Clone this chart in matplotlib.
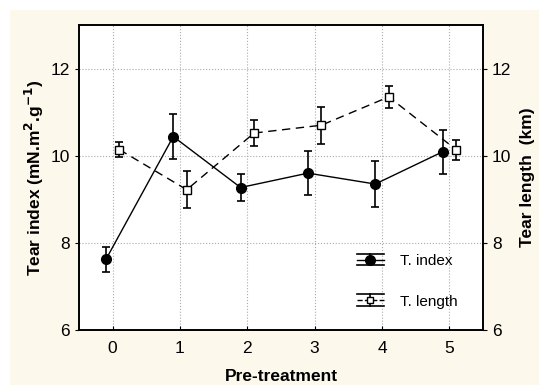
import matplotlib
matplotlib.use("Agg")
from matplotlib import pyplot as plt
from matplotlib.legend_handler import HandlerBase
from matplotlib.lines import Line2D
from matplotlib.patches import Rectangle

plt.rcParams['font.family'] = ['Liberation Sans', 'DejaVu Sans']

# data
pretreatment = [0, 1, 2, 3, 4, 5]
tear_index = [7.62, 10.44, 9.27, 9.60, 9.35, 10.09]
tear_index_err = [0.28, 0.52, 0.32, 0.50, 0.53, 0.51]
tear_length = [10.14, 9.22, 10.52, 10.70, 11.35, 10.14]
tear_length_err = [0.17, 0.42, 0.30, 0.42, 0.26, 0.23]
offset = 0.1


# legend key like the original: long caps above and below the marker
class ErrKey(HandlerBase):
    def create_artists(self, legend, orig, xd, yd, w, h, fontsize, trans):
        ls = orig.get_linestyle()
        mid = h / 2 - yd
        x0, x1 = -xd, -xd + w
        xm = (x0 + x1) / 2
        arts = [
            Line2D([x0, x1], [mid, mid], color='black', lw=1, ls=ls),
            Line2D([x0, x1], [mid + h * 0.55, mid + h * 0.55], color='black', lw=1.2),
            Line2D([x0, x1], [mid - h * 0.55, mid - h * 0.55], color='black', lw=1.2),
            Line2D([xm, xm], [mid - h * 0.55, mid + h * 0.55], color='black', lw=1.2),
            Line2D([xm], [mid], marker=orig.get_marker(), ms=orig.get_markersize(),
                   mfc=orig.get_markerfacecolor(), mec='black', ls='none'),
        ]
        for a in arts:
            a.set_transform(trans)
        return arts


fig = plt.figure(figsize=(5.39, 3.85), dpi=100, facecolor='white')
fig.patches.append(Rectangle((10 / 539, 0), 1, 1 - 10 / 385, transform=fig.transFigure,
                             facecolor='#fdf8ec', edgecolor='none', zorder=-1))
ax = fig.add_axes([79 / 539, 55 / 385, 404 / 539, 305 / 385])
ax2 = ax.twinx()

x1 = [p - offset for p in pretreatment]
x2 = [p + offset for p in pretreatment]
ax.errorbar(x1, tear_index, yerr=tear_index_err, fmt='-o', color='black', ms=7,
            lw=1, elinewidth=1.2, capsize=3, capthick=1.2, zorder=3)
ax2.errorbar(x2, tear_length, yerr=tear_length_err, fmt='--s', color='black', mfc='white',
             ms=6, lw=1, dashes=(6, 4), elinewidth=1.2, capsize=3, capthick=1.2, zorder=3)

ax.set_xlim(-0.5, 5.5)
ax.set_ylim(6, 13)
ax2.set_ylim(6, 13)
ax.set_xticks(pretreatment)
ax.set_yticks([6, 8, 10, 12])
ax2.set_yticks([6, 8, 10, 12])
ax.grid(True, color='#aaaaaa', ls=':', lw=0.8)
ax.tick_params(axis='x', direction='in', length=3, labelsize=12.5, pad=8)
ax.tick_params(axis='y', direction='out', length=3, labelsize=12.5)
ax2.tick_params(axis='y', direction='out', length=3, labelsize=12.5)
for a in (ax, ax2):
    for s in a.spines.values():
        s.set_linewidth(1.2)

ax.set_xlabel('Pre-treatment', fontsize=12.5, fontweight='bold', labelpad=9)
ax.set_ylabel('Tear index (mN.m$^\\mathbf{2}$.g$^\\mathbf{-1}$)', fontsize=12.5,
              fontweight='bold', labelpad=3)
ax2.set_ylabel('Tear length  (km)', fontsize=12.5, fontweight='bold', labelpad=6)

h1 = Line2D([], [], color='black', marker='o', ms=7, ls='-')
h2 = Line2D([], [], color='black', marker='s', ms=5, mfc='white', ls='--')
ax2.legend([h1, h2], ['T. index', 'T. length'], loc='lower right',
           bbox_to_anchor=(0.97, 0.025), frameon=False, fontsize=11,
           handler_map={Line2D: ErrKey()}, handlelength=1.8, labelspacing=1.75,
           handletextpad=1.0)

fig.savefig('out.png', dpi=100, facecolor=fig.get_facecolor())
